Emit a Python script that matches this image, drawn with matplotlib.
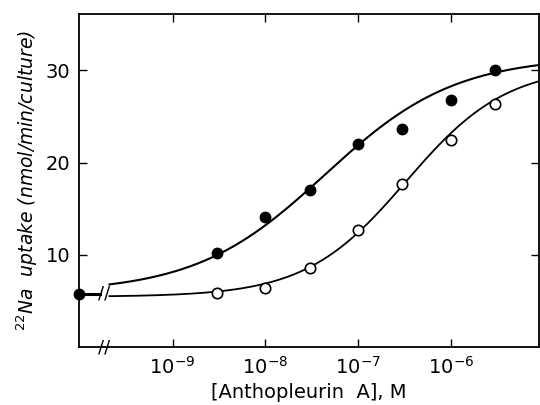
import numpy as np
import matplotlib
matplotlib.use('Agg')
import matplotlib.pyplot as plt

# [Anthopleurin A] in M, and the no-drug control value
conc = [3e-9, 1e-8, 3e-8, 1e-7, 3e-7, 1e-6, 3e-6]
filled = [10.2, 14.1, 17.0, 22.0, 23.6, 26.8, 30.1]
open_ = [5.9, 6.45, 8.6, 12.75, 17.7, 22.5, 26.4]
control = 5.8

xticks = [1e-9, 1e-8, 1e-7, 1e-6]
xticklabels = ['10$^{-9}$', '10$^{-8}$', '10$^{-7}$', '10$^{-6}$']
yticks = [10, 20, 30]

# smooth curves drawn through the points (Hill-type shape)
def hill(x, base, top, ec50, n):
    return base + (top - base) * x**n / (x**n + ec50**n)

plt.rcParams['font.family'] = ['DejaVu Sans']
fig = plt.figure(figsize=(5.4, 4.05), dpi=100)
ax = fig.add_axes([0.146, 0.143, 0.852, 0.822])

xmin, xmax = 10**-10.01, 10**-5.05
xbreak = 10**-9.74
ax.set_xscale('log')
ax.set_xlim(xmin, xmax)
ax.set_ylim(0, 36.1)

xs = np.logspace(np.log10(xbreak) + 0.06, np.log10(xmax), 300)
ax.plot(xs, hill(xs, 5.9, 31.5, 4.4e-8, 0.62), color='black', lw=1.5)
ax.plot(xs, hill(xs, 5.45, 30.5, 3.3e-7, 0.8), color='black', lw=1.3)
ax.plot([xmin, 10**-9.78], [control, control], color='black', lw=2.2)

ax.plot(conc, filled, 'o', color='black', ms=7.5)
ax.plot(conc, open_, 'o', mfc='white', mec='black', mew=1.2, ms=7.5)
ax.plot([xmin], [control], 'o', color='black', ms=7.5, clip_on=False, zorder=5)

# break marks on the curves and on the x axis
for yb in [control, 0]:
    ax.text(xbreak, yb, '//', ha='center', va='center', fontsize=13,
            clip_on=False)

ax.set_xticks(xticks)
ax.set_xticklabels(xticklabels, fontsize=14)
ax.xaxis.set_minor_locator(matplotlib.ticker.NullLocator())
ax.set_yticks(yticks)
ax.set_yticklabels([str(v) for v in yticks], fontsize=14)
ax.tick_params(axis='both', direction='in', top=True, right=True,
               length=6, width=1, pad=6)
for s in ax.spines.values():
    s.set_linewidth(1.3)

ax.set_xlabel('[Anthopleurin  A], M', fontsize=14, labelpad=4)
ax.set_ylabel('$^{22}$Na  uptake (nmol/min/culture)', fontsize=13.5,
              style='italic', labelpad=4)

fig.savefig('out.png', dpi=100)
